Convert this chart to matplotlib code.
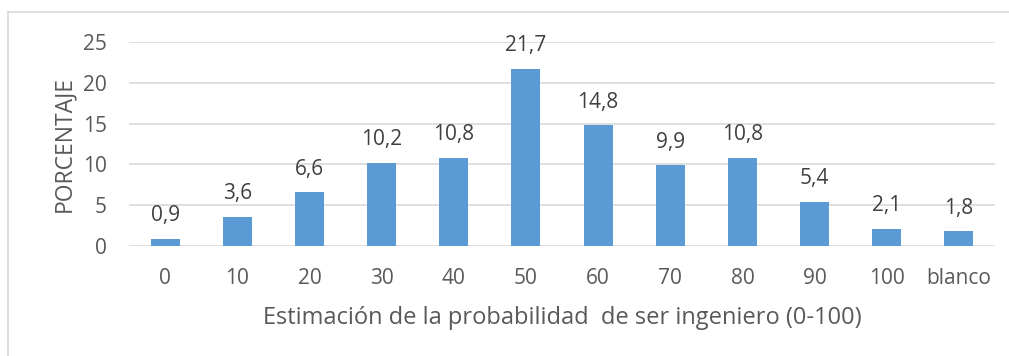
import matplotlib
matplotlib.use("Agg")
import matplotlib.pyplot as plt
from matplotlib.lines import Line2D

categories = ["0", "10", "20", "30", "40", "50", "60", "70", "80", "90", "100", "blanco"]
porcentajes = [0.9, 3.6, 6.6, 10.2, 10.8, 21.7, 14.8, 9.9, 10.8, 5.4, 2.1, 1.8]
y_ticks = [0, 5, 10, 15, 20, 25]

plt.rcParams["font.family"] = ["Open Sans", "DejaVu Sans"]

W, H = 1009, 356
fig = plt.figure(figsize=(W / 100, H / 100), dpi=100)
ax = fig.add_axes([129 / W, 1 - 246 / H, (995 - 129) / W, (246 - 42) / H])

x = list(range(len(categories)))
ax.bar(x, porcentajes, width=0.4, color="#5B9BD5", zorder=3)

for xi, v in zip(x, porcentajes):
    ax.annotate(f"{v:.1f}".replace(".", ","), (xi, v), xytext=(0, 12.7),
                textcoords="offset points", ha="center", va="baseline",
                fontsize=15, color="#404040")

ax.set_xlim(-0.5, len(categories) - 0.5)
ax.set_ylim(0, 25)
ax.set_yticks(y_ticks)
ax.set_xticks(x)
ax.set_xticklabels(categories)
ax.tick_params(axis="both", length=0, labelsize=15, labelcolor="#595959")
ax.tick_params(axis="x", pad=16)
ax.tick_params(axis="y", pad=16)
ax.grid(axis="y", color="#D9D9D9", linewidth=1.2, zorder=0)
for s in ax.spines.values():
    s.set_visible(False)

ax.set_ylabel("PORCENTAJE", fontsize=16.5, color="#595959", labelpad=5)
ax.set_xlabel("Estimación de la probabilidad  de ser ingeniero (0-100)",
              fontsize=17, color="#595959", labelpad=12)

# chart frame
fx0, fy0 = 8 / W, 1 - 12 / H
fig.add_artist(Line2D([fx0, 1.0], [fy0, fy0], transform=fig.transFigure,
                      color="#D9D9D9", linewidth=1.2))
fig.add_artist(Line2D([fx0, fx0], [0.0, fy0], transform=fig.transFigure,
                      color="#D9D9D9", linewidth=1.2))

fig.savefig("out.png", dpi=100)
